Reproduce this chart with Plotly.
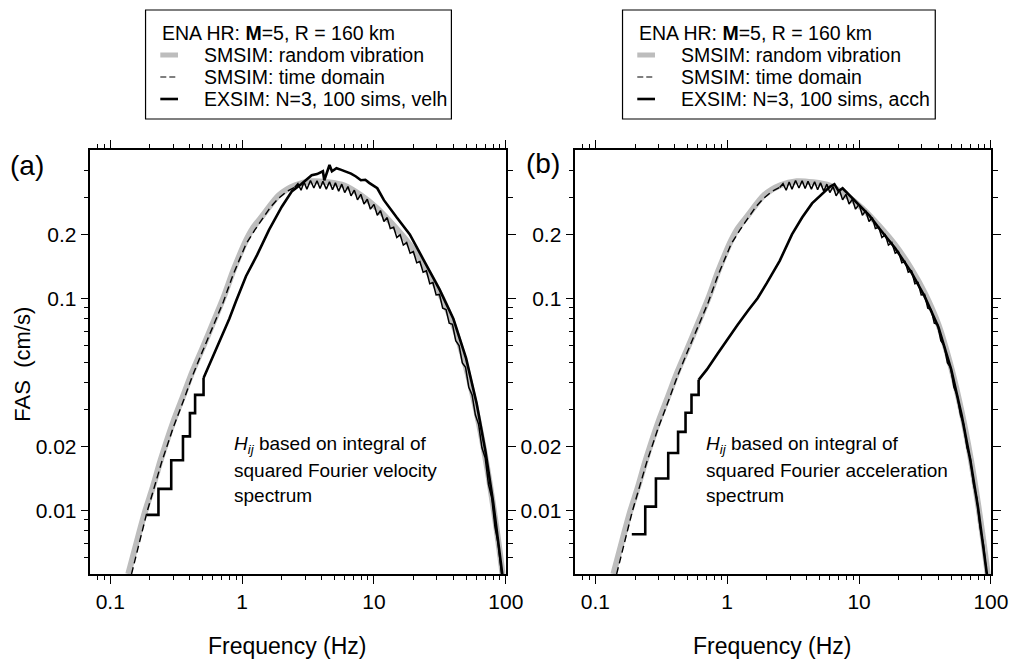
import plotly.graph_objects as go

# ---------------- data ----------------
# SMSIM random vibration (same model in both panels)
rv_f = [0.137, 0.16, 0.185, 0.21, 0.241, 0.30, 0.36, 0.42, 0.50, 0.60, 0.72, 0.85, 0.95, 1.07, 1.2, 1.43, 1.9, 2.53,
        3.37, 4.48, 5.97, 7.96, 10.6, 14.1, 18.8, 25.0, 31.4, 40.0, 50.0, 60.0, 70.0, 80.0, 93.0, 100.0]
rv_a = [0.005, 0.0072, 0.01, 0.0128, 0.0172, 0.026, 0.035, 0.045, 0.058, 0.076, 0.10, 0.133, 0.158, 0.187, 0.213, 0.245, 0.306, 0.341,
        0.356, 0.352, 0.34, 0.306, 0.265, 0.22, 0.178, 0.137, 0.106, 0.075, 0.047, 0.029, 0.0177, 0.0106, 0.0054, 0.0036]

# SMSIM time domain: dashed part (low frequency)
td_lo_f = [0.145, 0.19, 0.245, 0.30, 0.36, 0.42, 0.50, 0.60, 0.72, 0.85, 0.95, 1.07, 1.25, 1.43, 1.65, 1.9, 2.2, 2.5]
td_lo_a = [0.005, 0.0098, 0.0168, 0.0245, 0.033, 0.043, 0.056, 0.073, 0.096, 0.128, 0.152, 0.18, 0.21, 0.236, 0.27, 0.297, 0.32, 0.333]
# SMSIM time domain: densely jittered part (looks like a solid dark band)
td_hi_f = [2.5, 2.65, 2.8, 2.95, 3.1, 3.3, 3.5, 3.7, 3.9, 4.1, 4.35, 4.6, 4.85, 5.1, 5.4, 5.7, 6.0, 6.35, 6.7, 7.1,
           7.5, 7.95, 8.4, 8.9, 9.4, 10.0, 10.6, 11.2, 11.9, 12.6, 13.3, 14.1, 14.9, 15.8, 16.7, 17.7, 18.8, 19.9,
           21.1, 22.3, 23.6, 25.0, 26.5, 28.0, 29.6, 31.4, 33.2, 35.2, 37.2, 39.4, 41.7, 44.2, 46.8, 49.5, 52.4,
           55.5, 58.8, 62.2, 65.9, 69.8, 73.9, 78.2, 82.8, 87.7, 92.8, 98.3, 100.0]
td_hi_a = [0.333, 0.347, 0.323, 0.353, 0.327, 0.359, 0.331, 0.358, 0.329, 0.356, 0.327, 0.354, 0.325, 0.35, 0.32, 0.345,
           0.315, 0.336, 0.304, 0.323, 0.291, 0.309, 0.278, 0.293, 0.263, 0.277, 0.246, 0.259, 0.23, 0.24, 0.213,
           0.216, 0.1935, 0.199, 0.178, 0.183, 0.163, 0.166, 0.147, 0.149, 0.1325, 0.1347, 0.117, 0.1185, 0.1036,
           0.1042, 0.0898, 0.0885, 0.0762, 0.0753, 0.063, 0.0598, 0.0495, 0.0472, 0.038, 0.035, 0.0281, 0.0254,
           0.0197, 0.0176, 0.0132, 0.0114, 0.0083, 0.0069, 0.005, 0.004, 0.0037]

# EXSIM, Hij from velocity spectrum (panel a): low-frequency staircase, then continuous
exv_step_f = [0.189, 0.232, 0.29, 0.356, 0.402, 0.44, 0.51]
exv_step_a = [0.0095, 0.0126, 0.0172, 0.0223, 0.0287, 0.035, 0.042]
exv_f = [0.51, 0.6, 0.7, 0.8, 0.9, 1.07, 1.3, 1.6, 2.0, 2.39, 2.8, 3.37, 3.7, 4.1, 4.2, 4.6, 4.8, 5.2, 5.65,
         6.2, 6.7, 7.3, 7.96, 8.6, 9.2, 10.6, 11.9, 14.9, 18.7, 23.6, 28.0, 31.4, 40.0, 50.0, 60.0, 70.0, 80.0, 93.0, 100.0]
exv_a = [0.042, 0.053, 0.066, 0.08, 0.097, 0.127, 0.16, 0.21, 0.27, 0.32, 0.345, 0.38, 0.385, 0.397, 0.36, 0.425, 0.397, 0.41, 0.403,
         0.395, 0.387, 0.375, 0.36, 0.362, 0.35, 0.33, 0.29, 0.24, 0.20, 0.153, 0.125, 0.11, 0.08, 0.052, 0.032, 0.019, 0.011, 0.0055, 0.0037]

# EXSIM, Hij from acceleration spectrum (panel b)
exa_step_f = [0.189, 0.239, 0.288, 0.357, 0.424, 0.483, 0.536, 0.607]
exa_step_a = [0.0077, 0.0104, 0.0141, 0.0186, 0.0234, 0.0288, 0.035, 0.0412]
exa_f = [0.607, 0.7, 0.85, 1.0, 1.2, 1.45, 1.7, 2.0, 2.5, 3.1, 3.7, 4.4, 5.2, 6.0, 6.5, 7.0, 7.5, 8.5, 10.0,
         12.0, 14.1, 18.8, 25.0, 31.4, 40.0, 50.0, 60.0, 70.0, 80.0, 93.0, 100.0]
exa_a = [0.0412, 0.046, 0.055, 0.064, 0.075, 0.088, 0.10, 0.118, 0.15, 0.20, 0.24, 0.28, 0.31, 0.335, 0.345, 0.32, 0.33, 0.305, 0.275,
         0.245, 0.215, 0.172, 0.132, 0.102, 0.073, 0.046, 0.028, 0.017, 0.0102, 0.0053, 0.0036]

x_major = [0.1, 1, 10, 100]
x_major_text = ["0.1", "1", "10", "100"]
x_minor = [0.07, 0.08, 0.09, 0.2, 0.3, 0.4, 0.5, 0.6, 0.7, 0.8, 0.9, 2, 3, 4, 5, 6, 7, 8, 9,
           20, 30, 40, 50, 60, 70, 80, 90]
y_major = [0.01, 0.02, 0.1, 0.2]
y_major_text = ["0.01", "0.02", "0.1", "0.2"]
y_minor = [0.006, 0.007, 0.008, 0.009, 0.03, 0.04, 0.05, 0.06, 0.07, 0.08, 0.09, 0.3, 0.4]

FONT = "Liberation Sans, Arial, Helvetica, sans-serif"
GRAY = "#bdbdbd"

fig = go.Figure()


def add_panel(xa, ya, st_f, st_a, ex_f, ex_a):
    kw = dict(xaxis=xa, yaxis=ya, showlegend=False, hoverinfo="skip", mode="lines")
    fig.add_trace(go.Scatter(x=rv_f, y=rv_a, line=dict(color=GRAY, width=6, shape="spline", smoothing=0.8), **kw))
    fig.add_trace(go.Scatter(x=td_lo_f, y=td_lo_a, line=dict(color="black", width=1.4, dash="7px,4px"), **kw))
    fig.add_trace(go.Scatter(x=td_hi_f, y=td_hi_a, line=dict(color="black", width=1.5), **kw))
    fig.add_trace(go.Scatter(x=st_f, y=st_a, line=dict(color="black", width=2.6, shape="hv"), **kw))
    fig.add_trace(go.Scatter(x=ex_f, y=ex_a, line=dict(color="black", width=2.6), **kw))


add_panel("x", "y", exv_step_f, exv_step_a, exv_f, exv_a)
add_panel("x2", "y2", exa_step_f, exa_step_a, exa_f, exa_a)

W, H = 1027, 660


def xaxis(dom, rng, anchor):
    return dict(type="log", domain=dom, range=rng, anchor=anchor, showgrid=False, zeroline=False,
                showline=True, linecolor="black", linewidth=1.5, mirror="allticks",
                ticks="outside", ticklen=8, tickwidth=1.3, tickcolor="black",
                tickmode="array", tickvals=x_major, ticktext=x_major_text,
                tickfont=dict(family=FONT, size=21, color="black"),
                minor=dict(tickmode="array", tickvals=x_minor, ticks="outside", ticklen=4,
                           tickwidth=1.2, tickcolor="black", showgrid=False))


def yaxis(anchor):
    return dict(type="log", domain=[(H - 574) / H, (H - 150) / H], range=[-2.301, -0.301],
                anchor=anchor, showgrid=False, zeroline=False,
                showline=True, linecolor="black", linewidth=1.5, mirror="allticks",
                ticks="outside", ticklen=8, tickwidth=1.3, tickcolor="black",
                tickmode="array", tickvals=y_major, ticktext=y_major_text,
                tickfont=dict(family=FONT, size=21, color="black"),
                minor=dict(tickmode="array", tickvals=y_minor, ticks="outside", ticklen=5,
                           tickwidth=1.2, tickcolor="black", showgrid=False))


fig.update_layout(
    width=W, height=H, autosize=False,
    margin=dict(l=0, r=0, t=0, b=0),
    paper_bgcolor="white", plot_bgcolor="white",
    font=dict(family=FONT, color="black"),
    xaxis=xaxis([92 / W, 515 / W], [-1.15, 2.005], "y"),
    yaxis=yaxis("x"),
    xaxis2=xaxis([585 / W, 1008 / W], [-1.152, 2.003], "y2"),
    yaxis2=yaxis("x2"),
)


def px(x):
    return x / W


def py(y):
    return 1 - y / H


shapes = []
annotations = []


def text(x, y, t, size, xanchor="center", angle=0):
    annotations.append(dict(x=px(x), y=py(y), xref="paper", yref="paper", text=t, textangle=angle,
                            xanchor=xanchor, yanchor="middle", showarrow=False,
                            font=dict(family=FONT, size=size, color="black")))


# axis titles
text(22, 364, "FAS  (cm/s)", 22, angle=-90)
text(292, 646, "Frequency (Hz)", 23)
text(785, 646, "Frequency (Hz)", 23)
# panel labels
text(27, 165, "(a)", 28)
text(552, 163, "(b)", 28)

# in-plot notes
for x0, word in [(236, "velocity"), (716, "acceleration")]:
    lines = ["<i>H<sub>ij</sub></i> based on integral of", "squared Fourier " + word, "spectrum"]
    for i, t in enumerate(lines):
        text(x0, 445 + 25.5 * i, t, 19, xanchor="left")

# legends (two framed boxes)
for bx0, bx1, tag in [(148, 459, "velh"), (633, 951, "acch")]:
    shapes.append(dict(type="rect", xref="paper", yref="paper", x0=px(bx0), x1=px(bx1), y0=py(119), y1=py(10),
                       line=dict(color="black", width=1.2), fillcolor="white"))
    tx = bx0 + 15
    rows = [33, 55, 77, 99]
    text(tx, rows[0], "ENA HR: <b>M</b>=5, R = 160 km", 19.5, xanchor="left")
    sx0, sx1 = tx, tx + 18
    shapes.append(dict(type="line", xref="paper", yref="paper", x0=px(sx0), x1=px(sx1), y0=py(rows[1]), y1=py(rows[1]),
                       line=dict(color=GRAY, width=5)))
    shapes.append(dict(type="line", xref="paper", yref="paper", x0=px(sx0), x1=px(sx1), y0=py(rows[2]), y1=py(rows[2]),
                       line=dict(color="black", width=1.2, dash="6px,3px")))
    shapes.append(dict(type="line", xref="paper", yref="paper", x0=px(sx0), x1=px(sx1), y0=py(rows[3]), y1=py(rows[3]),
                       line=dict(color="black", width=2.6)))
    texts = ["SMSIM: random vibration", "SMSIM: time domain", "EXSIM: N=3, 100 sims, " + tag]
    for r, t in zip(rows[1:], texts):
        text(tx + 42, r, t, 19.5, xanchor="left")

fig.update_layout(shapes=shapes, annotations=annotations)
fig.write_html("out.html")
